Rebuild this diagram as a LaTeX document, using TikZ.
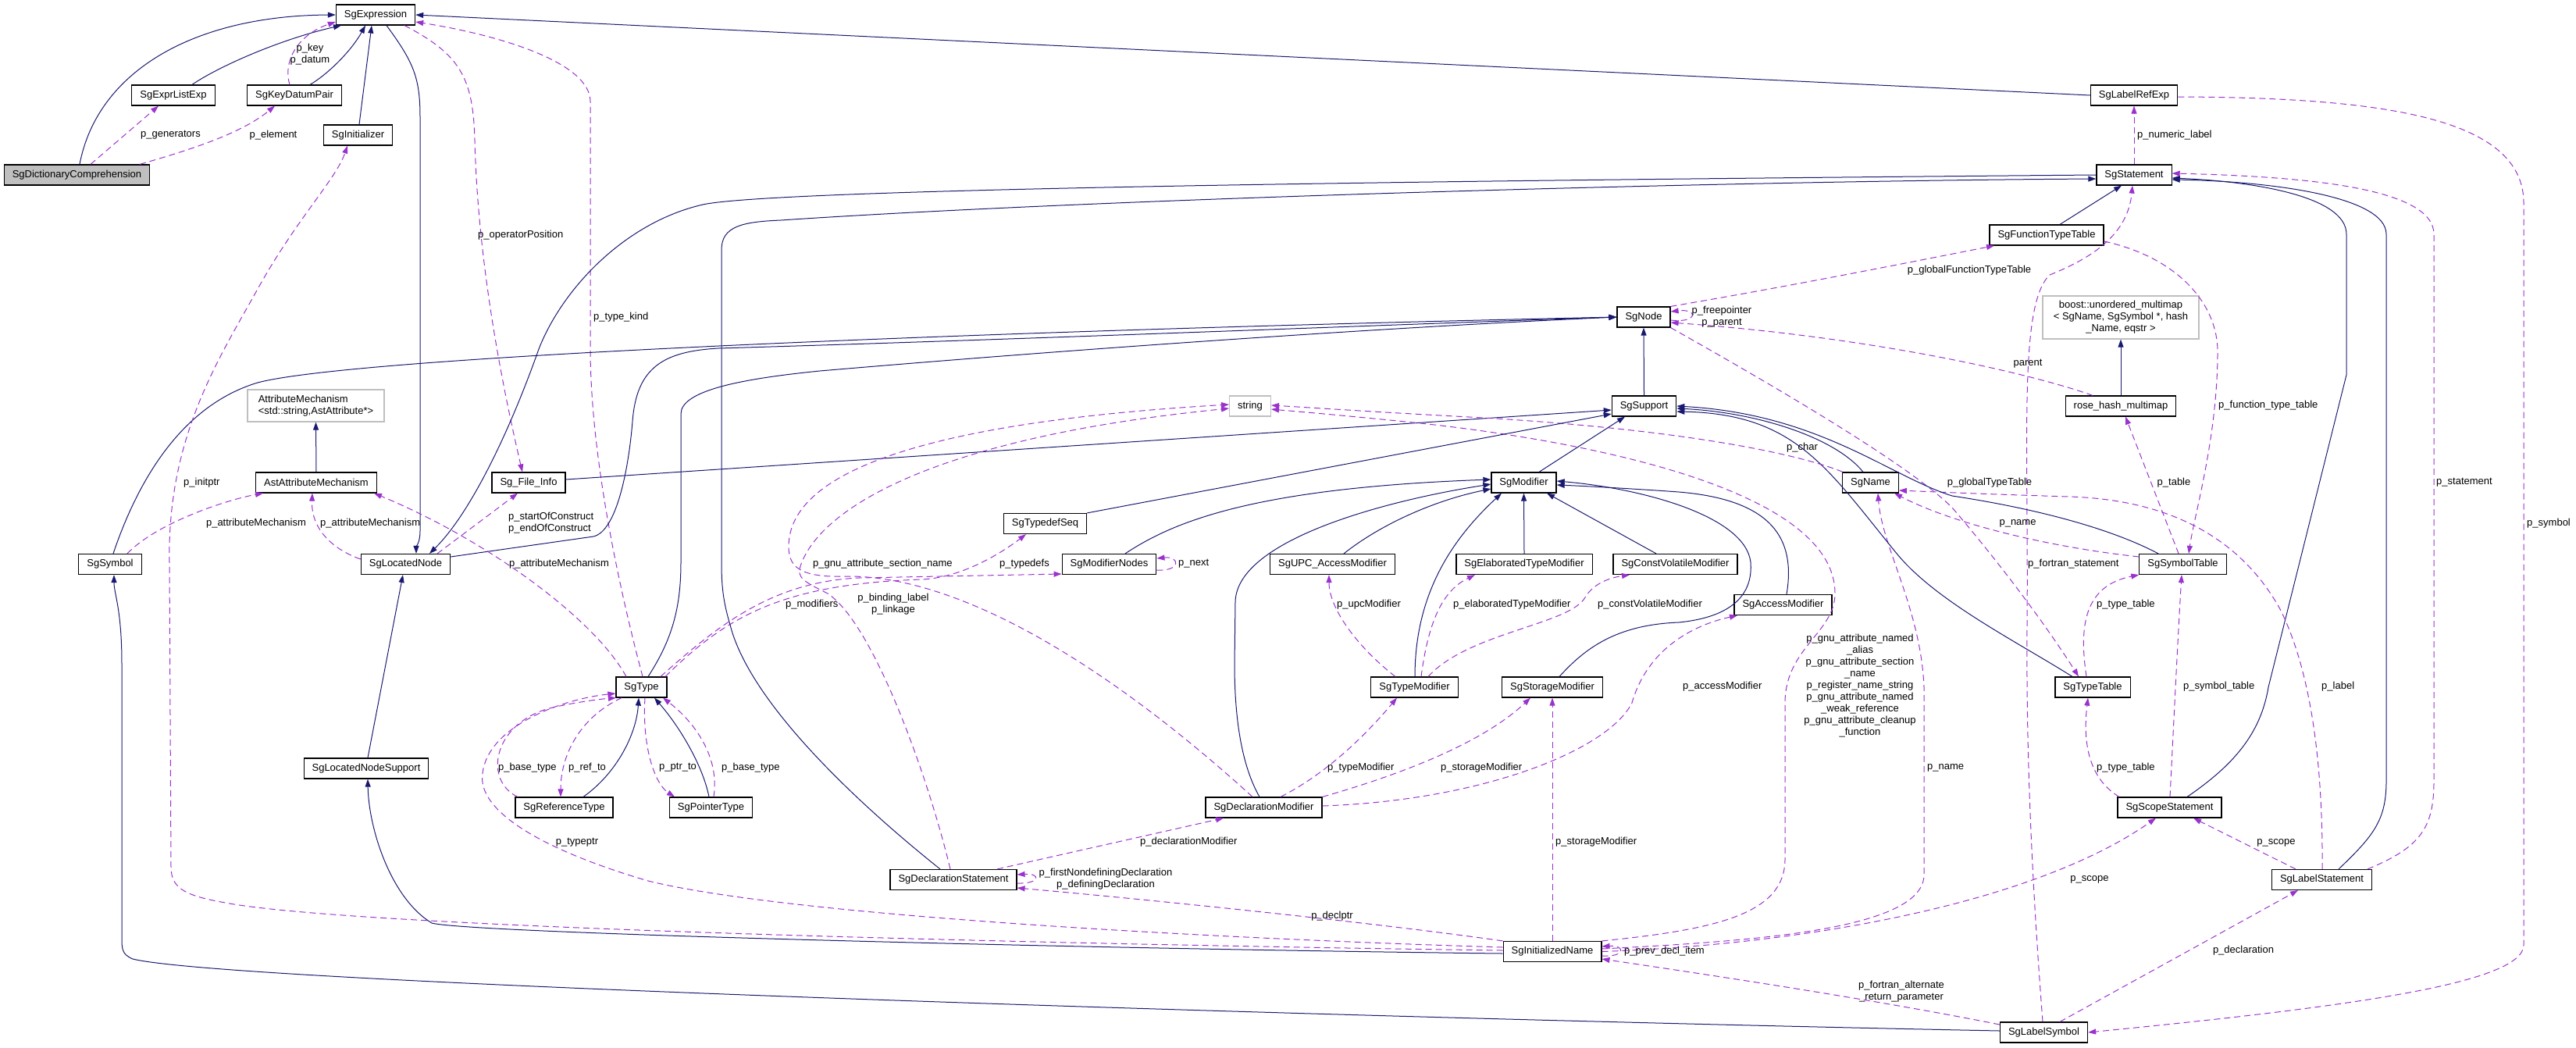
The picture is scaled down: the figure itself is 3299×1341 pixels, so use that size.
\documentclass[tikz,border=0pt]{standalone}
\usepackage{fontspec}
\setmainfont{Liberation Sans}
\usetikzlibrary{arrows.meta}
\definecolor{navy}{HTML}{191970}
\definecolor{orchid}{HTML}{9A32CD}
\definecolor{grey75}{HTML}{BFBFBF}

\begin{document}
\begin{tikzpicture}[x=1pt, y=-1pt,
    font=\fontsize{13}{15}\selectfont,
    cls/.style={draw=black, fill=white, line width=1.2pt, minimum height=26pt, inner xsep=10.5pt, inner ysep=0pt},
    ext/.style={cls, draw=grey75},
    inh/.style={draw=navy, line width=1pt, -{Triangle[length=10pt, width=7pt]}},
    use/.style={draw=orchid, line width=1pt, dash pattern=on 8pt off 5pt, -{Triangle[length=10pt, width=7pt]}},
    lbl/.style={inner sep=0pt}]
    \useasboundingbox (0,0) rectangle (3299,1341);

    % classes
    \node[cls, fill=grey75] (dict) at (98.5,224) {SgDictionaryComprehension};
    \node[cls] (expr) at (481,19) {SgExpression};
    \node[cls] (exprlist) at (222,122) {SgExprListExp};
    \node[cls] (keydatum) at (377,122) {SgKeyDatumPair};
    \node[cls] (init) at (458.5,173) {SgInitializer};
    \node[cls] (labelref) at (2733,122) {SgLabelRefExp};
    \node[cls] (stmt) at (2733,224) {SgStatement};
    \node[cls] (functab) at (2621,301) {SgFunctionTypeTable};
    \node[ext, minimum width=200pt, minimum height=55pt, align=center] (boost) at (2716,406.5) {boost::unordered\_multimap\\< SgName, SgSymbol *, hash\\\_Name, eqstr >};
    \node[cls] (sgnode) at (2105,406) {SgNode};
    \node[ext, minimum width=175pt, minimum height=41pt, align=left] (attrmech) at (404.5,519.5) {AttributeMechanism\\<std::string,AstAttribute*>};
    \node[cls] (astattr) at (405,618) {AstAttributeMechanism};
    \node[cls] (fileinfo) at (677,618) {Sg\_File\_Info};
    \node[cls] (symbol) at (141,722.5) {SgSymbol};
    \node[cls] (located) at (519.5,722.5) {SgLocatedNode};
    \node[cls] (type) at (821.5,880) {SgType};
    \node[ext] (str) at (1601,520) {string};
    \node[cls] (typedefseq) at (1338.5,670.5) {SgTypedefSeq};
    \node[cls] (modnodes) at (1420.5,722.5) {SgModifierNodes};
    \node[cls] (support) at (2105.5,520) {SgSupport};
    \node[cls] (modifier) at (1951.5,618) {SgModifier};
    \node[cls] (name) at (2395.5,618) {SgName};
    \node[cls] (upc) at (1706.5,722.5) {SgUPC\_AccessModifier};
    \node[cls] (elab) at (1952,722.5) {SgElaboratedTypeModifier};
    \node[cls] (constvol) at (2145.5,722.5) {SgConstVolatileModifier};
    \node[cls] (access) at (2283.5,774.5) {SgAccessModifier};
    \node[cls] (typemod) at (1811.5,880) {SgTypeModifier};
    \node[cls] (storage) at (1988,880) {SgStorageModifier};
    \node[cls] (rosehash) at (2716,520) {rose\_hash\_multimap};
    \node[cls] (symtab) at (2795.5,722.5) {SgSymbolTable};
    \node[cls] (typetab) at (2680,880) {SgTypeTable};
    \node[cls] (locsupport) at (469,984) {SgLocatedNodeSupport};
    \node[cls] (reftype) at (722.5,1034) {SgReferenceType};
    \node[cls] (ptrtype) at (910.5,1034) {SgPointerType};
    \node[cls] (declstmt) at (1221,1126.5) {SgDeclarationStatement};
    \node[cls] (declmod) at (1618.5,1034) {SgDeclarationModifier};
    \node[cls] (initname) at (1988,1218.5) {SgInitializedName};
    \node[cls] (scopestmt) at (2778.5,1034) {SgScopeStatement};
    \node[cls] (labelstmt) at (2973.5,1126.5) {SgLabelStatement};
    \node[cls] (labelsym) at (2617.5,1322) {SgLabelSymbol};

    % expression part
    \draw[inh] (102,0 |- dict.north) .. controls (125,90) and (250,20) .. (expr.west);
    \draw[inh] (246,0 |- exprlist.north) .. controls (280,85) and (360,50) .. (437,0 |- expr.south);
    \draw[inh] (397,0 |- keydatum.north) .. controls (420,95) and (450,65) .. (468,0 |- expr.south);
    \draw[inh] (460,0 |- init.north) -- (476,0 |- expr.south);
    \draw[inh] (495,0 |- expr.south) .. controls (530,80) and (538,100) .. (538,150) -- (538,680) .. controls (538,695) and (533,700) .. (533,0 |- located.north);
    \draw[inh] (labelref.west) -- (expr.east);
    \draw[use] (116,0 |- dict.north) -- (203,0 |- exprlist.south);
    \draw[use] (179,0 |- dict.north) .. controls (250,190) and (310,170) .. (352,0 |- keydatum.south);
    \draw[use] (371,0 |- keydatum.north) .. controls (362,80) and (380,45) .. (expr.west |- 0,28);
    \draw[use] (518,0 |- expr.south) .. controls (590,70) and (606,100) .. (608,180) .. controls (612,330) and (640,480) .. (669,0 |- fileinfo.north);
    \draw[use] (823,0 |- type.north) .. controls (800,780) and (757,600) .. (756,450) -- (756,130) .. controls (756,80) and (640,45) .. (expr.east |- 0,28);

    % located node part
    \draw[inh] (stmt.west) .. controls (2000,230) and (1000,240) .. (900,262) .. controls (800,285) and (720,370) .. (690,447) .. controls (650,560) and (600,660) .. (550,0 |- located.north);
    \draw[inh] (145,0 |- symbol.north) .. controls (175,620) and (230,520) .. (330,490) .. controls (450,458) and (1200,425) .. (sgnode.west);
    \draw[inh] (located.east |- 0,713) -- (760,687) .. controls (790,680) and (805,600) .. (810,540) .. controls (815,470) and (850,450) .. (920,446) .. controls (1300,435) and (1800,415) .. (sgnode.west);
    \draw[inh] (830,0 |- type.north) .. controls (860,820) and (872,780) .. (872,720) -- (872,530) .. controls (872,500) and (950,485) .. (1050,475) .. controls (1400,445) and (1800,418) .. (sgnode.west);
    \draw[inh] (support.north) -- (sgnode.south);
    \draw[inh] (astattr.north) -- (attrmech.south);
    \draw[inh] (fileinfo.east |- 0,614) -- (support.west |- 0,525);
    \draw[use] (located.west |- 0,716) .. controls (430,705) and (398,680) .. (400,0 |- astattr.south);
    \draw[use] (163,0 |- symbol.north) .. controls (200,670) and (290,640) .. (337,0 |- astattr.south);
    \draw[use] (560,0 |- located.north) -- (663,0 |- fileinfo.south);
    \draw[use] (802,0 |- type.north) .. controls (760,790) and (620,690) .. (479,0 |- astattr.south);

    % SgNode and the tables
    \draw[use] (sgnode.east |- 0,410) .. controls (2175,414) and (2175,395) .. (sgnode.east |- 0,399);
    \draw[use] (sgnode.north east) .. controls (2300,365) and (2450,335) .. (2554,0 |- functab.south);
    \draw[use] (sgnode.south east) .. controls (2300,510) and (2450,600) .. (2500,650) .. controls (2560,720) and (2620,800) .. (2662,0 |- typetab.north);
    \draw[use] (2680,0 |- rosehash.north) .. controls (2600,478) and (2400,432) .. (sgnode.east |- 0,413);
    \draw[inh] (rosehash.north) -- (boost.south);
    \draw[use] (2790,0 |- symtab.north) -- (2722,0 |- rosehash.south);
    \draw[use] (functab.east |- 0,309) .. controls (2790,330) and (2840,390) .. (2840,450) .. controls (2840,560) and (2810,660) .. (2803,0 |- symtab.north);
    \draw[inh] (2638,0 |- functab.north) -- (2717,0 |- stmt.south);
    \draw[use] (stmt.north) -- (labelref.south);
    \draw[use] (labelref.east |- 0,124) .. controls (3050,125) and (3232,150) .. (3232,260) -- (3232,1210) .. controls (3232,1260) and (3000,1290) .. (labelsym.east);
    \draw[use] (2616,0 |- labelsym.north) .. controls (2600,1100) and (2595,950) .. (2596,800) .. controls (2598,560) and (2585,390) .. (2625,352) .. controls (2680,330) and (2725,300) .. (2731,0 |- stmt.south);
    \draw[inh] (2801,0 |- scopestmt.north) .. controls (2860,980) and (2895,940) .. (2905,880) -- (3005,480) -- (3005,300) .. controls (3005,250) and (2880,232) .. (stmt.east |- 0,228);
    \draw[inh] (2995,0 |- labelstmt.north) .. controls (3040,1070) and (3056,1050) .. (3056,1000) -- (3056,300) .. controls (3056,250) and (2900,232) .. (stmt.east |- 0,230);
    \draw[use] (3032,0 |- labelstmt.north) .. controls (3100,1085) and (3117,1060) .. (3117,1000) -- (3117,300) .. controls (3117,240) and (2950,226) .. (stmt.east |- 0,222);
    \draw[use] (2940,0 |- labelstmt.north) -- (2809,0 |- scopestmt.south);
    \draw[use] (2974,0 |- labelstmt.north) .. controls (2975,980) and (2960,860) .. (2920,780) .. controls (2870,690) and (2780,640) .. (2650,636) .. controls (2550,633) and (2480,630) .. (name.east |- 0,628);
    \draw[use] (symtab.west |- 0,713) .. controls (2620,700) and (2500,670) .. (2426,0 |- name.south);
    \draw[use] (initname.east |- 0,1215) .. controls (2250,1205) and (2464,1190) .. (2464,1120) -- (2464,880) .. controls (2460,780) and (2410,700) .. (2405,0 |- name.south);
    \draw[inh] (2386,0 |- name.north) .. controls (2350,560) and (2250,528) .. (support.east |- 0,523);
    \draw[inh] (2764,0 |- symtab.north) .. controls (2700,675) and (2600,650) .. (2500,635) .. controls (2420,610) and (2330,530) .. (support.east |- 0,520);
    \draw[inh] (2654,0 |- typetab.north) .. controls (2580,820) and (2480,770) .. (2430,710) .. controls (2340,600) and (2300,530) .. (support.east |- 0,527);
    \draw[use] (2360,0 |- name.north) .. controls (2300,580) and (2150,550) .. (1900,535) .. controls (1750,527) and (1680,522) .. (str.east |- 0,519);
    \draw[use] (initname.north east) .. controls (2200,1190) and (2286,1170) .. (2286,1100) -- (2286,900) .. controls (2286,830) and (2350,810) .. (2350,760) .. controls (2350,620) and (2000,560) .. (1800,540) .. controls (1700,530) and (1650,526) .. (str.east |- 0,524);
    \draw[use] (initname.east) .. controls (2300,1210) and (2600,1160) .. (2761,0 |- scopestmt.south);
    \draw[use] (labelsym.west |- 0,1312) .. controls (2400,1280) and (2200,1250) .. (initname.east |- 0,1228);
    \draw[inh] (labelsym.west |- 0,1320) .. controls (1800,1305) and (300,1260) .. (170,1228) .. controls (156,1222) and (156,1215) .. (156,1200) -- (156,850) .. controls (156,780) and (146,760) .. (146,0 |- symbol.south);
    \draw[use] (2638,0 |- labelsym.north) -- (2943,0 |- labelstmt.south);
    \draw[use] (2714,0 |- scopestmt.north) .. controls (2680,1000) and (2666,960) .. (2674,0 |- typetab.south);
    \draw[use] (2779,0 |- scopestmt.north) .. controls (2785,900) and (2790,800) .. (2794,0 |- symtab.south);
    \draw[use] (2672,0 |- typetab.north) .. controls (2662,800) and (2670,750) .. (symtab.south west);

    % modifiers
    \draw[inh] (1971,0 |- modifier.north) -- (2081,0 |- support.south);
    \draw[inh] (typedefseq.north east) -- (support.west |- 0,530);
    \draw[inh] (1441,0 |- modnodes.north) .. controls (1500,670) and (1600,625) .. (modifier.west |- 0,614);
    \draw[inh] (1613,0 |- declmod.north) .. controls (1590,980) and (1581,920) .. (1581,850) -- (1582,770) .. controls (1585,690) and (1780,640) .. (modifier.west |- 0,620);
    \draw[inh] (1721,0 |- upc.north) .. controls (1770,670) and (1840,640) .. (modifier.west |- 0,626);
    \draw[inh] (1812,0 |- typemod.north) .. controls (1812,760) and (1860,690) .. (1923,0 |- modifier.south);
    \draw[inh] (elab.north) -- (modifier.south);
    \draw[inh] (2121,0 |- constvol.north) -- (1981,0 |- modifier.south);
    \draw[inh] (1997,0 |- storage.north) .. controls (2030,830) and (2070,800) .. (2150,797) .. controls (2220,790) and (2245,760) .. (2242,720) .. controls (2235,660) and (2100,625) .. (modifier.east |- 0,616);
    \draw[inh] (2288,0 |- access.north) .. controls (2300,690) and (2270,640) .. (2150,630) .. controls (2080,625) and (2020,622) .. (modifier.east |- 0,621);
    \draw[use] (1787,0 |- typemod.north) .. controls (1740,830) and (1702,780) .. (1702,0 |- upc.south);
    \draw[use] (1820,0 |- typemod.north) .. controls (1830,790) and (1850,755) .. (1889,0 |- elab.south);
    \draw[use] (1829,0 |- typemod.north) .. controls (1880,810) and (2010,800) .. (2030,765) .. controls (2040,748) and (2060,740) .. (2087,0 |- constvol.south);
    \draw[use] (1640,0 |- declmod.north) .. controls (1700,990) and (1750,940) .. (1789,0 |- typemod.south);
    \draw[use] (declmod.north east) .. controls (1800,990) and (1900,950) .. (1960,0 |- storage.south);
    \draw[use] (declmod.east |- 0,1032) .. controls (1900,1025) and (2060,960) .. (2090,900) .. controls (2110,830) and (2170,800) .. (2225,0 |- access.south);
    \draw[use] (initname.north) -- (storage.south);
    \draw[use] (1277,0 |- declstmt.north) -- (1567,0 |- declmod.south);
    \draw[use] (1604,0 |- declmod.north) .. controls (1450,880) and (1250,740) .. (1090,738) .. controls (1030,740) and (1010,730) .. (1010,700) .. controls (1010,600) and (1200,540) .. (str.west |- 0,518);
    \draw[use] (1217,0 |- declstmt.north) .. controls (1190,1000) and (1120,800) .. (1060,760) .. controls (1030,745) and (1020,740) .. (1025,725) .. controls (1050,650) and (1200,560) .. (str.west |- 0,523);
    \draw[use] (846,0 |- type.north) .. controls (920,800) and (990,745) .. (1100,740) -- (modnodes.west |- 0,735);
    \draw[use] (852,0 |- type.north) .. controls (930,790) and (1000,748) .. (1180,742) .. controls (1230,740) and (1280,710) .. (1314,0 |- typedefseq.south);
    \draw[use] (modnodes.east |- 0,730) .. controls (1512,732) and (1512,712) .. (modnodes.east |- 0,715);

    % types and declarations
    \draw[inh] (747,0 |- reftype.north) .. controls (790,990) and (815,940) .. (818,0 |- type.south);
    \draw[use] (796,0 |- type.south) .. controls (740,920) and (718,970) .. (718,0 |- reftype.north);
    \draw[use] (663,0 |- reftype.north) .. controls (620,1000) and (630,930) .. (700,908) .. controls (730,900) and (770,895) .. (789,0 |- type.south);
    \draw[inh] (908,0 |- ptrtype.north) .. controls (900,980) and (870,930) .. (838,0 |- type.south);
    \draw[use] (826,0 |- type.south) .. controls (822,960) and (840,1005) .. (864,0 |- ptrtype.north);
    \draw[use] (914,0 |- ptrtype.north) .. controls (922,970) and (890,925) .. (849,0 |- type.south);
    \draw[use] (initname.west |- 0,1213) .. controls (1500,1200) and (1000,1170) .. (830,1128) .. controls (700,1090) and (610,1040) .. (618,990) .. controls (625,930) and (720,895) .. (type.west |- 0,888);
    \draw[use] (initname.west |- 0,1217) .. controls (1400,1210) and (500,1190) .. (300,1158) .. controls (240,1148) and (219,1140) .. (219,1110) -- (217,720) .. controls (214,560) and (280,460) .. (330,370) .. controls (380,280) and (430,230) .. (445,0 |- init.south);
    \draw[inh] (initname.west |- 0,1221) .. controls (1400,1215) and (600,1195) .. (553,1182) .. controls (500,1150) and (472,1060) .. (471,0 |- locsupport.south);
    \draw[inh] (471,0 |- locsupport.north) -- (516,0 |- located.south);
    \draw[use] (initname.north west) .. controls (1750,1180) and (1450,1150) .. (declstmt.east |- 0,1137);
    \draw[use] (declstmt.east |- 0,1131) .. controls (1333,1132) and (1333,1118) .. (declstmt.east |- 0,1120);
    \draw[use] (initname.east |- 0,1224) .. controls (2082,1226) and (2082,1210) .. (initname.east |- 0,1212);
    \draw[inh] (1204,0 |- declstmt.north) .. controls (1100,1030) and (960,900) .. (935,800) .. controls (926,770) and (924,750) .. (924,720) -- (924,320) .. controls (924,290) and (950,284) .. (1000,282) .. controls (1400,255) and (2200,232) .. (stmt.west |- 0,229);

    % labels
    \node[lbl, anchor=west] (lgen) at (180,173) {p\_generators};
    \node[lbl] (lelem) at (350,173) {p\_element};
    \node[lbl, align=center] (lkey) at (397,70) {p\_key\\p\_datum};
    \node[lbl, anchor=west] (lopos) at (612,301) {p\_operatorPosition};
    \node[lbl, anchor=west] (lkind) at (760,406) {p\_type\_kind};
    \node[lbl, anchor=west] (linit) at (235,618) {p\_initptr};
    \node[lbl] (lattr1) at (328,670) {p\_attributeMechanism};
    \node[lbl, anchor=west] (lattr2) at (410,670) {p\_attributeMechanism};
    \node[lbl, anchor=west, align=left] (lcons) at (651,670) {p\_startOfConstruct\\p\_endOfConstruct};
    \node[lbl] (lattr3) at (716,722) {p\_attributeMechanism};
    \node[lbl, anchor=west] (lsec) at (1041,722) {p\_gnu\_attribute\_section\_name};
    \node[lbl, anchor=west] (ltdefs) at (1280,722) {p\_typedefs};
    \node[lbl, anchor=west] (lnext) at (1509,722) {p\_next};
    \node[lbl, anchor=west] (lmods) at (1006,774) {p\_modifiers};
    \node[lbl, align=center] (lbind) at (1144,774) {p\_binding\_label\\p\_linkage};
    \node[lbl, anchor=west] (lbase1) at (638,983) {p\_base\_type};
    \node[lbl, anchor=west] (lref) at (728,983) {p\_ref\_to};
    \node[lbl] (ltptr) at (739,1079) {p\_typeptr};
    \node[lbl, anchor=west] (lptr) at (844,983) {p\_ptr\_to};
    \node[lbl, anchor=west] (lbase2) at (924,983) {p\_base\_type};
    \node[lbl, anchor=west] (ldmod) at (1460,1078) {p\_declarationModifier};
    \node[lbl, align=center] (ldefs) at (1416,1126) {p\_firstNondefiningDeclaration\\p\_definingDeclaration};
    \node[lbl] (ldecl) at (1706,1173) {p\_declptr};
    \node[lbl, anchor=west] (ltmod) at (1700,983) {p\_typeModifier};
    \node[lbl, anchor=west] (lsmod1) at (1845,983) {p\_storageModifier};
    \node[lbl, anchor=west] (lsmod2) at (1992,1078) {p\_storageModifier};
    \node[lbl, anchor=west] (lamod) at (2155,879) {p\_accessModifier};
    \node[lbl, anchor=west] (lupc) at (1712,774) {p\_upcModifier};
    \node[lbl, anchor=west] (lelab) at (1861,774) {p\_elaboratedTypeModifier};
    \node[lbl, anchor=west] (lcv) at (2046,774) {p\_constVolatileModifier};
    \node[lbl, anchor=west] (lprev) at (2080,1218) {p\_prev\_decl\_item};
    \node[lbl, align=center] (lgnu) at (2382,878) {p\_gnu\_attribute\_named\\\_alias\\p\_gnu\_attribute\_section\\\_name\\p\_register\_name\_string\\p\_gnu\_attribute\_named\\\_weak\_reference\\p\_gnu\_attribute\_cleanup\\\_function};
    \node[lbl] (lchar) at (2308,573) {p\_char};
    \node[lbl, align=center] (lfree) at (2205,406) {p\_freepointer\\p\_parent};
    \node[lbl] (lgft) at (2522,346) {p\_globalFunctionTypeTable};
    \node[lbl] (lpar) at (2597,466) {parent};
    \node[lbl] (lgtt) at (2548,618) {p\_globalTypeTable};
    \node[lbl] (ltab) at (2784,618) {p\_table};
    \node[lbl, anchor=west] (lftt) at (2841,519) {p\_function\_type\_table};
    \node[lbl, anchor=west] (lnum) at (2737,173) {p\_numeric\_label};
    \node[lbl, anchor=west] (lsym) at (3236,670) {p\_symbol};
    \node[lbl, anchor=west] (lstmt) at (3120,618) {p\_statement};
    \node[lbl, anchor=west] (lfst) at (2597,722) {p\_fortran\_statement};
    \node[lbl] (lname1) at (2584,670) {p\_name};
    \node[lbl, anchor=west] (lname2) at (2468,983) {p\_name};
    \node[lbl, anchor=west] (ltt1) at (2685,774) {p\_type\_table};
    \node[lbl, anchor=west] (lstab) at (2796,879) {p\_symbol\_table};
    \node[lbl, anchor=west] (llab) at (2973,879) {p\_label};
    \node[lbl, anchor=west] (ltt2) at (2685,983) {p\_type\_table};
    \node[lbl] (lscope1) at (2915,1079) {p\_scope};
    \node[lbl] (lscope2) at (2676,1126) {p\_scope};
    \node[lbl] (ldecln) at (2873,1217) {p\_declaration};
    \node[lbl, align=center] (lfar) at (2435,1270) {p\_fortran\_alternate\\\_return\_parameter};
\end{tikzpicture}
\end{document}
